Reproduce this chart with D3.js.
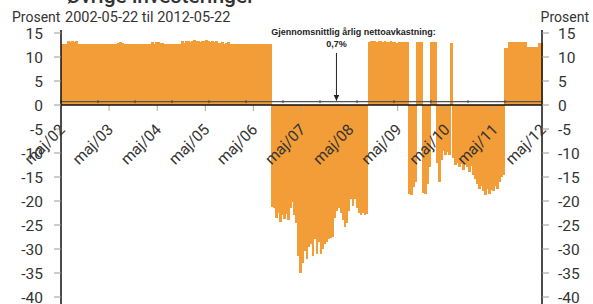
<!DOCTYPE html>
<html lang="no">
<head>
<meta charset="UTF-8">
<title>Øvrige investeringer</title>
<script src="https://d3js.org/d3.v7.min.js"></script>
<style>
  body { margin: 0; background: #fff; }
  text { font-family: Roboto, "DejaVu Sans", sans-serif; fill: #333; }
</style>
</head>
<body>
<svg id="chart"></svg>
<script>
  // period covered by the series
  const period = ["2002-05-22", "2012-05-22"];
  const meanReturn = 0.7;

  // rolling yearly net return, in percent (~half-monthly)
  const returns = [
    12.7, 12.8, 12.7, 13.3, 13.2, 13.3, 13.1, 13.3, 12.7, 12.7,
    12.7, 12.8, 12.7, 12.7, 12.7, 12.7, 12.8, 12.7, 12.7, 12.7,
    12.7, 12.7, 12.8, 12.7, 12.7, 12.7, 12.7, 12.7, 13.0, 13.1,
    12.9, 12.7, 12.7, 12.7, 12.8, 12.7, 12.7, 12.7, 12.7, 12.7,
    12.7, 12.8, 12.7, 12.7, 12.7, 13.1, 12.8, 13.2, 13.1, 12.9,
    13.0, 12.7, 12.7, 12.7, 12.7, 12.8, 12.7, 12.7, 12.7, 12.7,
    13.3, 12.9, 13.4, 13.3, 13.1, 13.4, 13.5, 13.3, 13.4, 13.2,
    13.4, 13.3, 13.5, 13.3, 13.2, 13.4, 13.1, 13.3, 12.9, 13.0,
    13.2, 12.8, 12.9, 13.1, 12.7, 12.7, 12.8, 12.7, 12.7, 12.7,
    12.7, 12.7, 12.7, 12.8, 12.7, 12.7, 12.7, 12.7, 12.7, 12.7,
    12.7, 12.7, 12.7, 12.7, 12.7, -21.2, -21.5, -23.5, -22.5, -24.3,
    -23.0, -23.8, -22.8, -24.0, -21.5, -20.2, -23.0, -24.5, -31.5, -35.0,
    -33.0, -30.5, -32.0, -29.5, -29.0, -31.5, -28.0, -31.0, -28.5, -31.0,
    -30.0, -29.0, -28.5, -28.0, -27.8, -27.5, -23.5, -22.0, -21.5, -22.5,
    -24.0, -25.5, -24.5, -22.0, -19.5, -21.0, -19.5, -21.5, -22.5, -23.0,
    -22.5, -23.0, -22.8, 13.2, 13.4, 13.3, 13.4, 13.2, 13.3, 13.4,
    13.2, 13.3, 13.2, 13.1, 13.3, 13.2, 13.2, 13.0, 13.2, 13.1,
    13.2, 13.2, 13.1, -18.5, -18.8, -17.0, -16.0, 13.2, 13.2, 13.2,
    -18.3, -18.5, -16.5, -13.0, 13.2, 13.2, 13.2, -12.0, -16.0, -11.5,
    -9.5, -10.5, -9.8, -10.5, 13.0, -11.0, -12.5, -12.0, -13.0, -12.2,
    -13.5, -12.5, -13.0, -14.0, -12.8, -14.5, -15.5, -16.5, -17.5, -16.8,
    -18.0, -18.8, -17.5, -18.5, -17.8, -18.0, -16.8, -17.5, -16.0, -15.0,
    -14.5, 11.8, 11.8, 13.2, 13.2, 13.2, 13.2, 13.2, 13.2, 13.2,
    13.2, 13.2, 12.0, 12.0, 12.0, 12.0, 12.0, 12.0, 12.9, 12.9
  ];

  const yTicks = [15, 10, 5, 0, -5, -10, -15, -20, -25, -30, -35, -40];
  const xTickLabels = ["maj/02", "maj/03", "maj/04", "maj/05", "maj/06", "maj/07",
                       "maj/08", "maj/09", "maj/10", "maj/11", "maj/12"];

  const width = 593, height = 304;
  const plotLeft = 61, plotRight = 542, plotTop = 33, plotBottom = 297;
  const orange = "#f29d37";

  const parse = d3.timeParse("%Y-%m-%d");
  const start = parse(period[0]), end = parse(period[1]);

  const svg = d3.select("#chart").attr("width", width).attr("height", height);

  const x = d3.scaleTime().domain([start, end]).range([plotLeft, plotRight]);
  const xi = d3.scaleLinear().domain([0, returns.length]).range([plotLeft, plotRight]);
  const y = d3.scaleLinear().domain([-40, 15]).range([plotBottom, plotTop]);

  // title (cut off at the top in the original) and subtitle
  svg.append("text").attr("x", 66).attr("y", 3)
    .style("font-size", "21px").style("font-weight", "500")
    .text("Øvrige investeringer");
  svg.append("text").attr("x", 65).attr("y", 22)
    .style("font-size", "14.5px")
    .text(period[0] + " til " + period[1]);
  svg.append("text").attr("x", 12).attr("y", 22)
    .style("font-size", "14px").text("Prosent");
  svg.append("text").attr("x", 589).attr("y", 22)
    .attr("text-anchor", "end")
    .style("font-size", "14px").text("Prosent");

  // bars
  const bw = xi(1) - xi(0);
  svg.append("g")
    .attr("shape-rendering", "crispEdges")
    .selectAll("rect")
    .data(returns)
    .join("rect")
    .attr("x", (d, i) => xi(i))
    .attr("width", bw + 0.8)
    .attr("y", d => y(Math.max(0, d)))
    .attr("height", d => Math.abs(y(d) - y(0)))
    .attr("fill", orange);

  // year ticks under zero line
  const years = xTickLabels.map((d, i) => d3.timeYear.offset(start, i));
  svg.append("g").selectAll("line")
    .data(years.slice(1, -1))
    .join("line")
    .attr("x1", d => x(d)).attr("x2", d => x(d))
    .attr("y1", y(0)).attr("y2", y(0) + 6)
    .attr("stroke", "#b5a58f").attr("stroke-width", 1);

  // mean line with its small markers
  svg.append("line")
    .attr("x1", plotLeft).attr("x2", plotRight)
    .attr("y1", y(meanReturn)).attr("y2", y(meanReturn))
    .attr("stroke", "#555").attr("stroke-width", 1.3);
  const marks = d3.range(0, 14).map(k => d3.timeDay.offset(start, 281 * k));
  svg.append("g").selectAll("line")
    .data(marks.filter(d => d < end))
    .join("line")
    .attr("x1", d => x(d)).attr("x2", d => x(d))
    .attr("y1", y(meanReturn) - 1.5).attr("y2", y(meanReturn) + 1.5)
    .attr("stroke", "#444").attr("stroke-width", 1);

  // zero line
  svg.append("line")
    .attr("x1", plotLeft).attr("x2", plotRight)
    .attr("y1", y(0)).attr("y2", y(0))
    .attr("stroke", "#111").attr("stroke-width", 1.5);

  // y axes
  [plotLeft, plotRight].forEach((ax, side) => {
    svg.append("line").attr("x1", ax).attr("x2", ax)
      .attr("y1", plotTop - 3).attr("y2", plotBottom + 7)
      .attr("stroke", "#111").attr("stroke-width", 1.5);
    const g = svg.append("g");
    g.selectAll("line").data(yTicks).join("line")
      .attr("x1", side ? ax : ax - 7).attr("x2", side ? ax + 7 : ax)
      .attr("y1", d => y(d)).attr("y2", d => y(d))
      .attr("stroke", "#999");
    g.selectAll("text").data(yTicks).join("text")
      .attr("x", side ? ax + 16 : ax - 18)
      .attr("y", d => y(d))
      .attr("dy", "0.36em")
      .attr("text-anchor", side ? "start" : "end")
      .style("font-size", "15.5px")
      .text(d => d);
  });

  // x tick labels, rotated
  svg.append("g").selectAll("text")
    .data(years)
    .join("text")
    .attr("transform", d => `translate(${x(d) + 5},${y(0) + 25.5}) rotate(-45)`)
    .attr("text-anchor", "end")
    .style("font-size", "15.5px")
    .text((d, i) => xTickLabels[i]);

  // annotation
  const ax = x(parse("2008-02-12"));
  svg.append("text").attr("x", ax + 17).attr("y", 34.5)
    .attr("text-anchor", "middle")
    .style("font-family", "'Liberation Sans', Arial, sans-serif")
    .style("font-size", "9px").style("font-weight", "bold").style("fill", "#222")
    .text("Gjennomsnittlig årlig nettoavkastning:");
  svg.append("text").attr("x", ax).attr("y", 46.5)
    .attr("text-anchor", "middle")
    .style("font-family", "'Liberation Sans', Arial, sans-serif")
    .style("font-size", "9px").style("font-weight", "bold").style("fill", "#222")
    .text("0,7%");
  svg.append("defs").append("marker")
    .attr("id", "arrow").attr("viewBox", "0 0 10 10")
    .attr("refX", 10).attr("refY", 5)
    .attr("markerWidth", 6).attr("markerHeight", 6)
    .attr("orient", "auto")
    .append("path").attr("d", "M0,0L10,5L0,10z").attr("fill", "#222");
  svg.append("line")
    .attr("x1", ax).attr("x2", ax)
    .attr("y1", 53).attr("y2", y(meanReturn) - 1)
    .attr("stroke", "#222").attr("stroke-width", 1)
    .attr("marker-end", "url(#arrow)");
</script>
</body>
</html>
